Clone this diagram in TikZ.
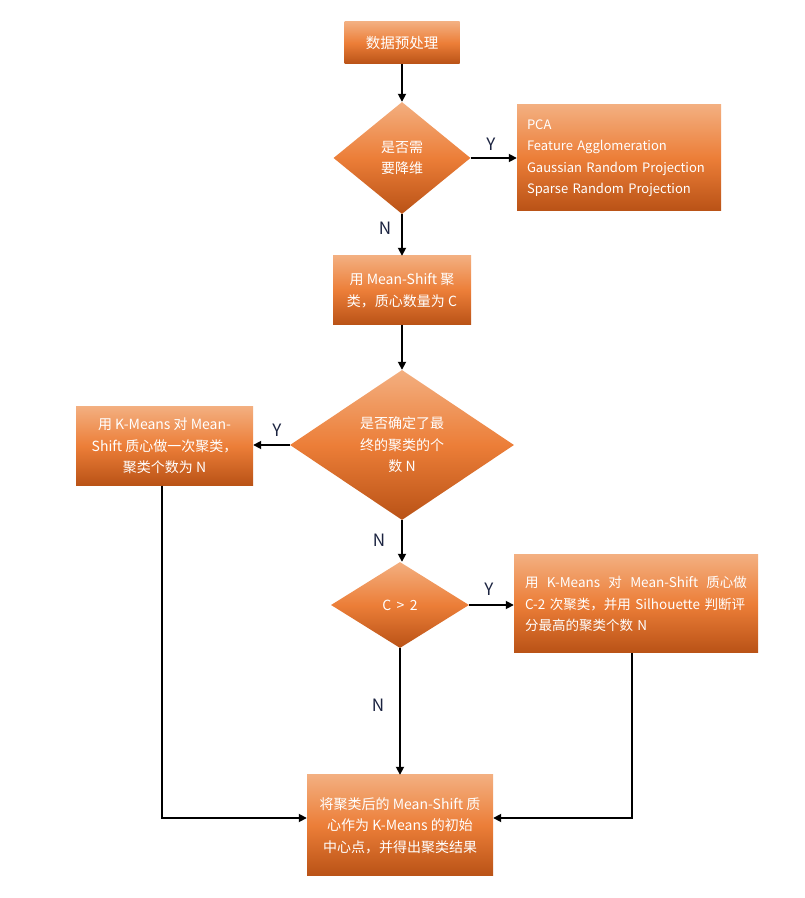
\documentclass[tikz,border=0pt]{standalone}
\usepackage{fontspec}
\setmainfont{Noto Sans CJK SC}
\usetikzlibrary{shapes.geometric,arrows.meta}
\definecolor{ortop}{HTML}{F3AF80}
\definecolor{ormid}{HTML}{EC7E38}
\definecolor{orbot}{HTML}{B95216}
\definecolor{lblc}{HTML}{1B2340}
\tikzset{
  grad/.style={top color=ortop,bottom color=orbot,middle color=ormid,draw=none,text=white,
     font=\fontsize{14}{21.5}\selectfont,inner sep=0pt},
  box/.style={grad,rectangle},
  dia/.style={grad,diamond,shape aspect=1},
  conn/.style={line width=1.7pt,-{Triangle[length=8pt,width=8pt]}},
  lbl/.style={text=lblc,font=\fontsize{17}{17}\selectfont,inner sep=0pt}
}
\begin{document}
\begin{tikzpicture}[x=1pt,y=1pt]
\useasboundingbox (0,0) rectangle (805,898);
\node[box,minimum width=115pt,minimum height=42pt,font=\fontsize{14.5}{20}\selectfont] (b1) at (402,855) {数据预处理};
\node[dia,minimum width=137pt,minimum height=112pt,align=center] (d1) at (402,740) {是否需\\要降维};
\node[box,minimum width=204pt,minimum height=106pt,text width=184pt,align=left,font=\fontsize{13}{21.5}\selectfont] (pca) at (619,740)
  {PCA\\Feature Agglomeration\\Gaussian Random Projection\\Sparse Random Projection};
\node[box,minimum width=138pt,minimum height=69pt,align=center] (b2) at (402,607.5) {用 Mean-Shift 聚\\类，质心数量为 C};
\node[dia,minimum width=224pt,minimum height=150pt,align=center] (d2) at (402,453) {是否确定了最\\终的聚类的个\\数 N};
\node[box,minimum width=177pt,minimum height=79pt,align=center] (bl) at (164.5,452) {用 K-Means 对 Mean-\\Shift 质心做一次聚类，\\聚类个数为 N};
\node[dia,minimum width=138pt,minimum height=86pt] (d3) at (400,293) {C\,{} >\,{} 2};
\node[box,minimum width=244pt,minimum height=98pt,text width=222pt,align=left,font=\fontsize{13.5}{21.5}\selectfont] (br) at (636,294)
  {\hbox to 222pt{用\hfil K-Means\hfil 对\hfil Mean-Shift\hfil 质心做}\\C-2 次聚类，并用 Silhouette 判断评\\分最高的聚类个数 N};
\node[box,minimum width=186pt,minimum height=101pt,align=center] (bf) at (400,72.5) {将聚类后的 Mean-Shift 质\\心作为 K-Means 的初始\\中心点，并得出聚类结果};
\draw[conn] (b1.south) -- (d1.north);
\draw[conn] (d1.east) -- (pca.west);
\draw[conn] (d1.south) -- (b2.north);
\draw[conn] (b2.south) -- (d2.north);
\draw[conn] (d2.west) -- (d2.west -| bl.east);
\draw[conn] (d2.south) -- (d2.south |- d3.north);
\draw[conn] (d3.east) -- (d3.east -| br.west);
\draw[conn] (d3.south) -- (bf.north);
\draw[conn] ([xshift=-2.5pt]bl.south) |- ([yshift=7.5pt]bf.west);
\draw[conn] ([xshift=-4pt]br.south) |- ([yshift=7.5pt]bf.east);
\node[lbl] (y1) at (491,754) {Y};
\node[lbl] (n1) at (385,670) {N};
\node[lbl] (y2) at (277,468) {Y};
\node[lbl] (n2) at (379,358) {N};
\node[lbl] (y3) at (489,309) {Y};
\node[lbl] (n3) at (378,193) {N};
\end{tikzpicture}
\end{document}
